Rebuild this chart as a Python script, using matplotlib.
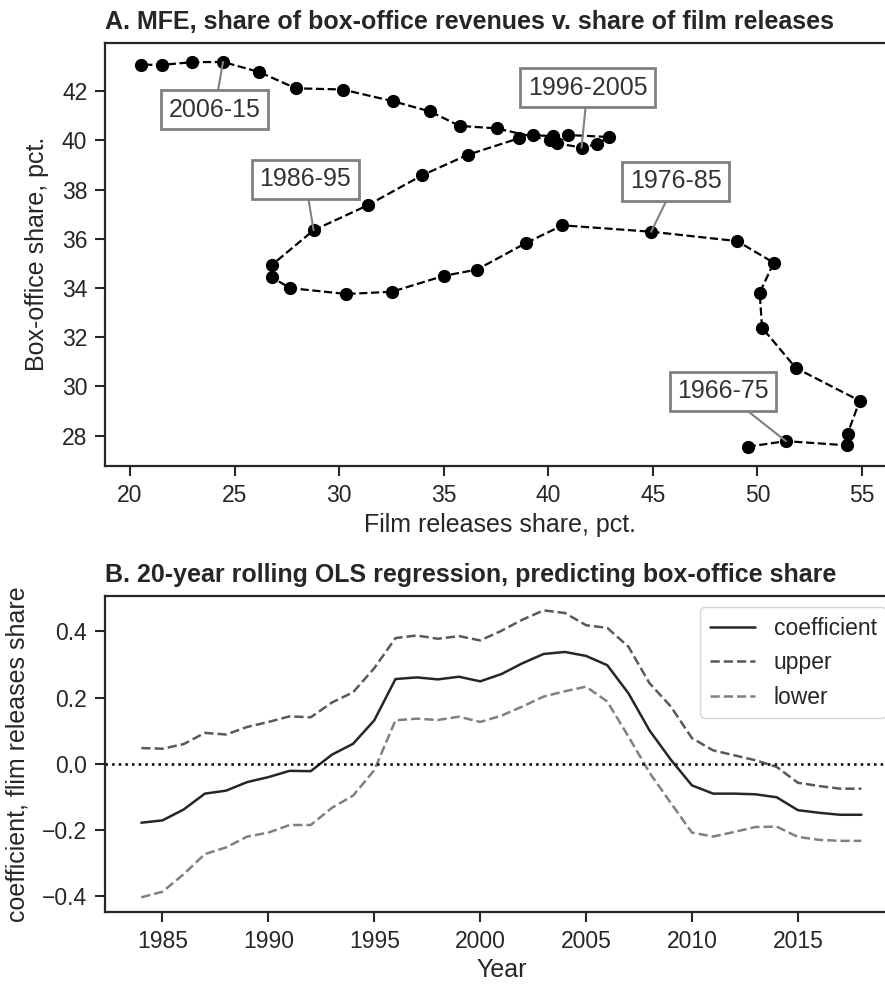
import numpy as np
import matplotlib
matplotlib.use("Agg")
import matplotlib.pyplot as plt
import seaborn as sns

# --- data: panel A, rolling 10-year windows ---
film_share = [49.53, 51.36, 54.26, 54.31, 54.89, 51.84, 50.22, 50.11, 50.78, 49.03,
              44.92, 40.68, 38.93, 36.59, 35.02, 32.52, 30.33, 27.66, 26.79, 26.80,
              28.78, 31.38, 33.96, 36.16, 38.61, 39.25, 40.21, 40.95, 42.91, 42.31,
              41.59, 40.44, 40.08, 37.53, 35.77, 34.34, 32.59, 30.17, 27.93, 26.18,
              24.45, 22.96, 21.53, 20.54]
box_share = [27.55, 27.78, 27.61, 28.08, 29.42, 30.75, 32.39, 33.81, 35.03, 35.91,
             36.29, 36.55, 35.83, 34.75, 34.50, 33.85, 33.76, 34.00, 34.43, 34.95,
             36.35, 37.37, 38.58, 39.42, 40.09, 40.22, 40.17, 40.22, 40.14, 39.84,
             39.71, 39.88, 40.00, 40.49, 40.59, 41.18, 41.59, 42.07, 42.12, 42.78,
             43.19, 43.18, 43.07, 43.08]
period_labels = ["1966-75", "1976-85", "1986-95", "1996-2005", "2006-15"]
period_index = [1, 10, 20, 30, 40]
label_pos = [(48.35, 29.80), (46.10, 38.34), (28.38, 38.42), (41.88, 42.15), (24.05, 41.25)]

# --- data: panel B, rolling OLS ---
years = list(range(1984, 2019))
coef = [-0.179, -0.172, -0.139, -0.091, -0.082, -0.056, -0.041, -0.022, -0.023, 0.027,
        0.060, 0.131, 0.256, 0.261, 0.255, 0.263, 0.249, 0.271, 0.304, 0.332,
        0.338, 0.326, 0.298, 0.213, 0.100, 0.012, -0.066, -0.091, -0.091, -0.093,
        -0.102, -0.141, -0.149, -0.155, -0.155]
upper = [0.047, 0.045, 0.059, 0.093, 0.088, 0.111, 0.126, 0.143, 0.140, 0.185,
         0.216, 0.289, 0.380, 0.388, 0.378, 0.386, 0.373, 0.402, 0.436, 0.464,
         0.456, 0.419, 0.411, 0.354, 0.243, 0.173, 0.077, 0.040, 0.025, 0.010,
         -0.010, -0.058, -0.068, -0.076, -0.076]
lower = [-0.405, -0.388, -0.335, -0.274, -0.254, -0.221, -0.209, -0.186, -0.186, -0.134,
         -0.097, -0.020, 0.131, 0.136, 0.132, 0.142, 0.126, 0.145, 0.173, 0.203,
         0.219, 0.233, 0.188, 0.082, -0.028, -0.119, -0.209, -0.221, -0.207, -0.192,
         -0.191, -0.222, -0.231, -0.234, -0.234]

sns.set_style("ticks")
plt.rcParams['font.family'] = ['Liberation Sans', 'DejaVu Sans']
plt.rcParams['text.color'] = '.15'
plt.rcParams['axes.labelcolor'] = '.15'
plt.rcParams['axes.edgecolor'] = '.15'
plt.rcParams['axes.linewidth'] = 1.6
plt.rcParams['xtick.color'] = '.15'
plt.rcParams['ytick.color'] = '.15'
plt.rcParams['xtick.major.size'] = 7
plt.rcParams['ytick.major.size'] = 7
plt.rcParams['xtick.major.width'] = 1.5
plt.rcParams['ytick.major.width'] = 1.5
plt.rcParams['xtick.major.pad'] = 6
plt.rcParams['ytick.major.pad'] = 6

fig = plt.figure(figsize=(8.85, 9.84), dpi=100)
ax1 = fig.add_axes([0.119, 0.5264, 0.893, 0.4302])
ax2 = fig.add_axes([0.119, 0.0735, 0.895, 0.3208])

# --- panel A ---
ax1.plot(film_share, box_share, color='black', linestyle='--', linewidth=1.6,
         marker='o', markersize=8.5)
for lab, i, pos in zip(period_labels, period_index, label_pos):
    ax1.annotate(lab, xy=(film_share[i], box_share[i]), xytext=pos,
                 ha='center', va='center', fontsize=18, color='.2',
                 bbox=dict(boxstyle='square,pad=0.3', fc='white', ec='gray', lw=2),
                 arrowprops=dict(arrowstyle='-', color='gray', lw=1.5,
                                 shrinkA=0, shrinkB=0))
ax1.set_xticks([20, 25, 30, 35, 40, 45, 50, 55])
ax1.set_yticks([28, 30, 32, 34, 36, 38, 40, 42])
ax1.tick_params(labelsize=16.5)
ax1.set_xlabel("Film releases share, pct.", fontsize=18)
ax1.set_ylabel("Box-office share, pct.", fontsize=18, labelpad=9)
ax1.set_title("A. MFE, share of box-office revenues v. share of film releases",
              loc='left', fontsize=18, fontweight='bold', pad=10)

# --- panel B ---
ax2.plot(years, coef, color='.15', linewidth=1.8, label='coefficient')
ax2.plot(years, upper, color='.35', linestyle='--', linewidth=1.8, label='upper')
ax2.plot(years, lower, color='.5', linestyle='--', linewidth=1.8, label='lower')
ax2.axhline(0, color='black', linestyle=':', linewidth=1.8)
ax2.set_xticks([1985, 1990, 1995, 2000, 2005, 2010, 2015])
ax2.set_yticks([-0.4, -0.2, 0.0, 0.2, 0.4])
ax2.tick_params(labelsize=16.5)
ax2.set_xlabel("Year", fontsize=18)
ax2.set_ylabel("coefficient, flim releases share", fontsize=18, labelpad=9)
ax2.set_title("B. 20-year rolling OLS regression, predicting box-office share",
              loc='left', fontsize=18, fontweight='bold', pad=10)
ax2.legend(loc='upper right', fontsize=16.5)

fig.savefig("out.png", dpi=100)
